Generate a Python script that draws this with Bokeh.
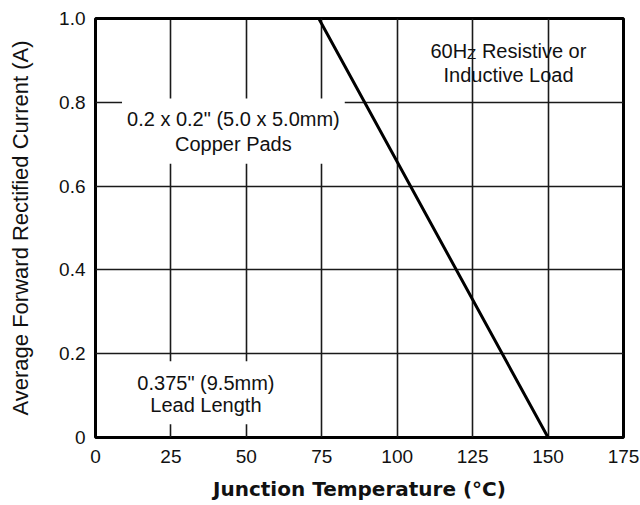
from bokeh.plotting import figure
from bokeh.models import Range1d, FixedTicker, Label
from bokeh.embed import file_html
from bokeh.resources import INLINE

# ---- data ----
temp_c = [0, 74, 150]
current_a = [1.0, 1.0, 0.0]
x_ticks = [0, 25, 50, 75, 100, 125, 150, 175]
y_ticks = [0, 0.2, 0.4, 0.6, 0.8, 1.0]
y_tick_labels = ["0", "0.2", "0.4", "0.6", "0.8", "1.0"]

FONT = "Liberation Sans"
INK = "#111111"

p = figure(width=640, height=505, output_backend="svg", toolbar_location=None,
           x_range=Range1d(0, 175), y_range=Range1d(0, 1.0),
           min_border_left=95, min_border_right=17, min_border_top=18,
           min_border_bottom=68)

p.background_fill_color = "white"
p.border_fill_color = "white"
p.outline_line_color = "black"
p.outline_line_width = 3

# axes
for ax in (p.xaxis[0], p.yaxis[0]):
    ax.axis_line_color = None
    ax.major_tick_line_color = None
    ax.minor_tick_line_color = None
    ax.major_tick_out = 0
    ax.major_tick_in = 0
    ax.major_label_text_font = FONT
    ax.major_label_text_font_size = "19px"
    ax.major_label_text_color = INK

p.xaxis.ticker = FixedTicker(ticks=x_ticks)
p.xaxis.major_label_standoff = 12
p.xaxis.axis_label = "Junction Temperature (\u00b0C)"
p.xaxis.axis_label_text_font = "DejaVu Sans"
p.xaxis.axis_label_text_font_style = "bold"
p.xaxis.axis_label_text_font_size = "20px"
p.xaxis.axis_label_text_color = INK
p.xaxis.axis_label_standoff = 11

p.yaxis.ticker = FixedTicker(ticks=y_ticks)
p.yaxis.major_label_overrides = {t: s for t, s in zip(y_ticks, y_tick_labels)}
p.yaxis.major_label_standoff = 10
p.yaxis.axis_label = "Average Forward Rectified Current (A)"
p.yaxis.axis_label_text_font = FONT
p.yaxis.axis_label_text_font_size = "22px"
p.yaxis.axis_label_text_font_style = "normal"
p.yaxis.axis_label_text_color = INK
p.yaxis.axis_label_standoff = 23

# grid
p.xgrid.ticker = FixedTicker(ticks=x_ticks)
p.ygrid.ticker = FixedTicker(ticks=y_ticks)
for g in (p.xgrid[0], p.ygrid[0]):
    g.grid_line_color = "#1a1a1a"
    g.grid_line_width = 1.6

# derating curve
p.line(temp_c, current_a, line_color="black", line_width=3)

# annotations with white boxes
def note(x, y, text, lh, pad, alpha=1.0):
    lab = Label(x=x, y=y, text=text, text_align="center", text_baseline="middle",
                text_font=FONT, text_font_size="20px", text_color=INK,
                text_alpha=alpha, text_line_height=lh,
                background_fill_color="white", background_fill_alpha=1.0,
                padding=pad)
    p.add_layout(lab)
    return lab

note(45.7, 0.731, "0.2 x 0.2\" (5.0 x 5.0mm)\nCopper Pads", 1.15,
     dict(left=5, right=5, top=9, bottom=9))
note(36.6, 0.107, "0.375\" (9.5mm)\nLead Length", 1.0,
     dict(left=5, right=5, top=11, bottom=8))
# box behind 60Hz note (invisible text sizes the box)
note(136.9, 0.903, "60HZ Resistive or\nInductive Load", 1.12,
     dict(left=5, right=5, top=5, bottom=5), alpha=0.0)


def piece(x, y, text, size="20px", x_offset=0, align="left"):
    p.add_layout(Label(x=x, y=y, text=text, x_offset=x_offset, text_align=align,
                       text_baseline="alphabetic", text_font=FONT,
                       text_font_size=size, text_color=INK))

piece(111.0, 0.9236, "60H")
piece(111.0, 0.9165, "Z", size="15px", x_offset=36.7)
piece(111.0, 0.9236, "Resistive or", x_offset=51.5)
piece(136.9, 0.864, "Inductive Load", align="center")

open("out.html", "w").write(file_html(p, INLINE))
